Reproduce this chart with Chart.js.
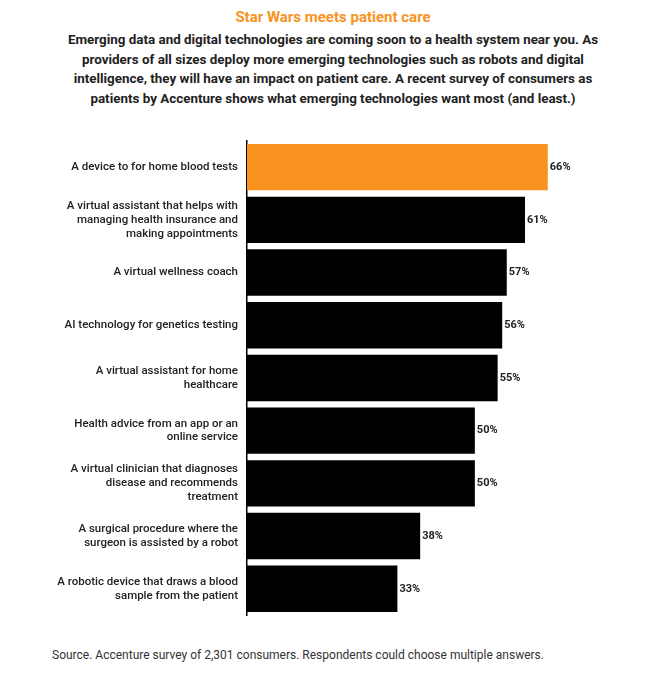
<!DOCTYPE html>
<html><head><meta charset="utf-8">
<script src="https://cdn.jsdelivr.net/npm/chart.js@4"></script>
<style>
body{margin:0;width:666px;height:680px;background:#fff;font-family:Roboto,sans-serif;position:relative;overflow:hidden}
#t{position:absolute;top:8px;left:0;width:666px;text-align:center;color:#f7931e;font-weight:700;font-size:15px}
#s{position:absolute;top:30px;left:50px;width:566px;text-align:center;color:#222;font-weight:700;font-size:13.4px;line-height:19.5px}
#src{position:absolute;top:648px;left:52px;color:#333;font-size:12px}
#w{position:absolute;top:118px;left:0;width:666px;height:513px}
</style></head><body>
<div id="t">Star Wars meets patient care</div>
<div id="s">Emerging data and digital technologies are coming soon to a health system near you. As providers of all sizes deploy more emerging technologies such as robots and digital intelligence, they will have an impact on patient care. A recent survey of consumers as patients by Accenture shows what emerging technologies want most (and least.)</div>
<div id="w"><canvas id="c"></canvas></div>
<div id="src">Source. Accenture survey of 2,301 consumers. Respondents could choose multiple answers.</div>
<script>
const categories=[["A device to for home blood tests"],["A virtual assistant that helps with","managing health insurance and","making appointments"],["A virtual wellness coach"],["AI technology for genetics testing"],["A virtual assistant for home","healthcare"],["Health advice from an app or an","online service"],["A virtual clinician that diagnoses","disease and recommends","treatment"],["A surgical procedure where the","surgeon is assisted by a robot"],["A robotic device that draws a blood","sample from the patient"]];
const values=[66,61,57,56,55,50,50,38,33];
const colors=values.map((v,i)=>i===0?'#f7931e':'#000');
const lbl={id:'lbl',afterDatasetsDraw(ch){const x=ch.ctx;const m=ch.getDatasetMeta(0);x.save();x.font='bold 11px Roboto';x.fillStyle='#222';x.textBaseline='middle';m.data.forEach((b,i)=>x.fillText(values[i]+'%',b.x+2,b.y));x.restore();}};
new Chart(document.getElementById('c'),{type:'bar',data:{labels:categories,datasets:[{data:values,backgroundColor:colors,categoryPercentage:1,barPercentage:0.88}]},
options:{indexAxis:'y',responsive:true,maintainAspectRatio:false,animation:false,layout:{padding:{right:100,top:0,bottom:0}},
plugins:{legend:{display:false},tooltip:{enabled:false}},
scales:{x:{display:false,min:0,max:70},y:{afterFit(s){s.width=247;},grid:{display:false,drawTicks:false},border:{color:'#000',width:1.5},ticks:{color:'#222',padding:9,font:{family:'Roboto',size:11.5,weight:'500'}}}}},plugins:[lbl]});
</script></body></html>
